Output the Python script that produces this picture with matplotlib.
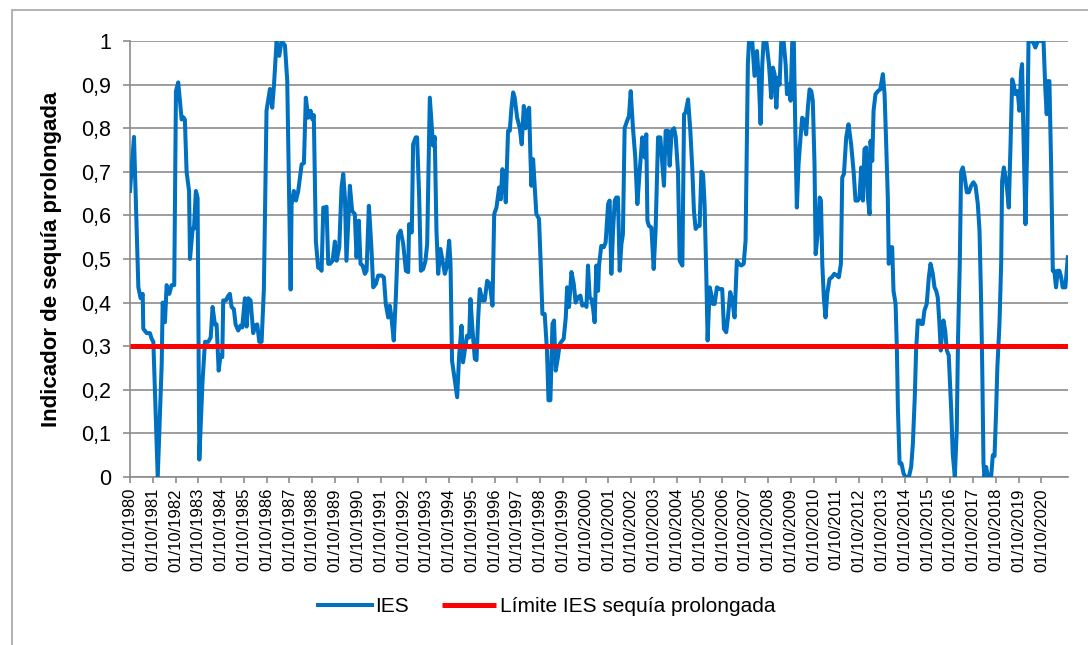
import matplotlib
matplotlib.use("Agg")
import matplotlib.pyplot as plt
from matplotlib.patches import Rectangle
from matplotlib.ticker import FuncFormatter

plt.rcParams['font.family'] = ['Liberation Sans', 'DejaVu Sans']

# Months elapsed since 01/10/1980 and IES values
months = [
    0, 2.1, 4.4, 5.6, 6.7, 7.0, 8.8, 10.5, 11.4, 12.3, 14.6, 16.7, 17.2, 18.4, 19.3, 20.7,
    21.9, 23.3, 24.2, 25.4, 27.2, 28.1, 28.9, 29.8, 31.1, 31.6, 33.0, 33.7, 34.7, 35.6,
    36.5, 38.2, 39.5, 41.2, 42.5, 43.5, 44.7, 45.6, 46.7, 47.7, 48.6, 49.1, 50.5, 51.8,
    52.6, 53.5, 54.7, 55.6, 57.0, 58.2, 59.1, 60.5, 61.4, 62.3, 63.5, 64.9, 65.8, 67.0,
    68.1, 69.3, 70.5, 71.9, 73.7, 74.9, 75.8, 77.2, 78.6, 79.8, 81.6, 82.8, 84.6,
    85.1, 86.3, 87.4, 88.6, 90.4, 91.6, 92.6, 93.9, 95.1, 96.1, 96.8, 97.9, 99.1, 100.0,
    100.9, 101.8, 102.6, 103.5, 104.4, 105.3, 106.7, 107.9, 108.8, 110.2, 111.4, 112.3,
    113.2, 114.0, 115.8, 117.0, 118.4, 119.3, 120.5, 121.4, 122.5, 123.7, 124.6, 125.8,
    126.3, 127.2, 128.1, 129.5, 130.7, 132.5, 133.7, 134.7, 136.0, 136.8, 137.7, 138.9,
    140.0, 141.2, 142.5, 143.9, 145.3, 146.5, 147.0, 148.4, 149.1, 150.5, 151.2, 152.3,
    153.2, 154.4, 155.6, 156.5, 157.9, 158.8, 159.6, 160.5, 161.4, 162.3, 163.5, 164.6,
    165.8, 166.7, 168.1, 168.8, 169.6, 171.1, 172.3, 173.3,
    174.6, 175.4, 176.3, 177.5, 178.6, 179.3, 180.4, 181.6, 182.5, 183.3, 184.2, 185.6,
    186.8, 188.1, 189.5, 190.9, 191.8, 193.0, 194.4, 195.3, 196.1, 197.0, 197.9, 199.1,
    200.0, 200.9, 201.8, 202.6, 203.9, 205.3, 206.3, 207.4, 208.4, 209.3, 210.2, 210.9,
    211.4, 212.3, 213.2, 214.0, 215.4, 216.3, 217.2, 218.4, 219.6, 220.4, 221.4, 222.5,
    223.3, 224.2, 225.4, 226.3, 227.2, 228.4, 229.5, 230.2, 231.2, 232.5, 233.7, 234.7,
    235.9, 237.2, 238.2, 239.5, 240.4, 241.2, 242.1, 243.0, 243.9, 244.7, 245.6, 246.5,
    247.0, 248.2, 249.5, 250.5, 251.8, 252.6, 253.5, 254.4, 255.3, 256.1, 257.0, 257.9,
    258.8, 259.6, 260.5, 261.8, 262.8, 263.7, 264.9, 266.1, 267.2, 268.4,
    269.8, 271.1, 271.9, 272.5, 273.3, 274.6, 275.8, 276.8, 278.1, 279.3, 280.2, 281.2,
    282.1, 283.3, 284.2, 285.3, 286.5, 287.4, 288.6, 289.5, 290.9, 291.8, 292.6, 293.9,
    295.1, 296.1, 297.0, 297.9, 299.1, 300.0, 300.9, 301.8, 302.6, 303.5, 304.2, 305.3,
    306.1, 307.0, 307.9, 309.1, 310.5, 311.9, 312.8, 314.0, 314.9, 316.1, 317.2, 318.4,
    319.6, 320.7, 321.9, 323.2, 324.2, 324.9, 325.4, 326.0, 327.7, 328.9, 330.2, 331.1,
    332.1, 333.0, 333.7, 335.1, 336.5, 337.7, 338.6, 339.5, 340.4, 341.2, 342.1, 343.0,
    344.2, 345.3, 346.0, 347.0, 347.9, 348.8, 349.6, 350.4, 351.2, 352.1, 353.0, 354.0,
    354.9, 356.1, 357.0, 357.9,
    358.8, 359.6, 360.5, 361.1, 362.3, 363.2, 363.9, 364.6, 365.4, 366.3, 367.2, 368.4,
    369.6, 370.9, 372.3, 373.3, 374.4, 375.1, 376.0, 377.2, 378.4, 379.8, 381.1, 382.1,
    383.3, 384.2, 385.1, 386.0, 386.8, 387.7, 388.6, 389.5, 390.0, 390.9, 391.6, 392.6,
    393.9, 395.1, 396.5, 397.4, 398.2, 399.1, 399.6, 400.4, 401.4, 402.1, 403.2, 403.9,
    404.4, 405.3, 406.3, 407.4, 408.4, 410.2, 411.4, 412.3, 413.3, 414.0, 414.9, 415.8,
    416.7, 417.5, 418.4, 419.6, 420.7, 421.6, 422.8, 423.7, 424.6, 425.4, 426.3, 427.0,
    427.7, 428.4, 429.3, 430.2, 431.2, 432.5, 433.3, 434.4, 435.4, 436.1, 437.0, 437.7,
    438.6, 439.5, 440.7, 441.8, 443.0, 444.2, 445.3, 446.5, 447.4, 448.2, 448.8, 449.5,
    450.0, 450.9, 451.8, 453.5, 454.4, 455.3, 456.1, 456.8, 457.9, 458.8, 459.3, 460.2,
    461.1, 462.0, 462.8, 463.7, 464.6, 465.4, 466.3, 467.5, 468.4, 469.3, 469.8, 470.5,
    471.6, 472.5, 473.2, 474.6, 475.8, 476.8, 478.1, 479.8, 481.1, 482.1, 482.8, 483.3,
    484.2, 485.1, 486.0, 486.8, 487.7, 488.6, 489.5, 490.4, 491.2, 492.6, 493.9,
]
ies = [
    0.656, 0.78, 0.435, 0.41, 0.42, 0.34, 0.33, 0.33, 0.317, 0.31, 0.0, 0.26, 0.40, 0.355, 0.44, 0.42,
    0.44, 0.44, 0.885, 0.905, 0.82, 0.825, 0.82, 0.70, 0.656, 0.50, 0.57, 0.57, 0.656, 0.64,
    0.04, 0.22, 0.31, 0.31, 0.32, 0.39, 0.35, 0.35, 0.244, 0.28, 0.275, 0.405, 0.405, 0.416,
    0.42, 0.39, 0.385, 0.35, 0.336, 0.347, 0.343, 0.41, 0.345, 0.41, 0.405, 0.33, 0.347, 0.35,
    0.31, 0.31, 0.43, 0.84, 0.89, 0.847, 0.897, 1.0, 0.966, 1.0, 0.99, 0.91, 0.43,
    0.626, 0.656, 0.634, 0.656, 0.717, 0.72, 0.87, 0.824, 0.84, 0.82, 0.83, 0.54, 0.48, 0.48,
    0.473, 0.618, 0.618, 0.62, 0.489, 0.489, 0.496, 0.54, 0.496, 0.527, 0.664, 0.695,
    0.64, 0.496, 0.668, 0.61, 0.603, 0.504, 0.588, 0.489, 0.485, 0.466, 0.473, 0.622,
    0.588, 0.52, 0.435, 0.443, 0.462, 0.462, 0.458, 0.397, 0.366, 0.393, 0.366, 0.313,
    0.412, 0.553, 0.565, 0.534, 0.473, 0.47, 0.58, 0.561, 0.763, 0.779, 0.779, 0.641,
    0.473, 0.477, 0.496, 0.534, 0.87, 0.81, 0.76, 0.78, 0.565, 0.466, 0.523, 0.496,
    0.466, 0.48, 0.542, 0.489, 0.267, 0.22, 0.183, 0.275,
    0.347, 0.263, 0.29, 0.324, 0.32, 0.408, 0.336, 0.271, 0.268, 0.359, 0.431, 0.405,
    0.405, 0.45, 0.443, 0.393, 0.603, 0.618, 0.664, 0.637, 0.706, 0.695, 0.63, 0.794,
    0.794, 0.847, 0.882, 0.87, 0.824, 0.80, 0.763, 0.851, 0.80, 0.84, 0.847, 0.733,
    0.668, 0.729, 0.664, 0.603, 0.592, 0.489, 0.374, 0.374, 0.29, 0.176, 0.176, 0.351,
    0.359, 0.244, 0.275, 0.305, 0.31, 0.317, 0.366, 0.435, 0.39, 0.47, 0.443, 0.40,
    0.412, 0.416, 0.393, 0.397, 0.39, 0.485, 0.412, 0.408, 0.386, 0.355, 0.485, 0.427,
    0.485, 0.53, 0.527, 0.538, 0.626, 0.634, 0.466, 0.565, 0.634, 0.641, 0.641, 0.473,
    0.534, 0.557, 0.80, 0.817, 0.828, 0.885, 0.80, 0.733, 0.626, 0.70,
    0.779, 0.733, 0.786, 0.588, 0.576, 0.572, 0.477, 0.565, 0.779, 0.779, 0.725, 0.668,
    0.794, 0.794, 0.714, 0.794, 0.80, 0.78, 0.70, 0.496, 0.485, 0.832, 0.836, 0.866,
    0.794, 0.71, 0.61, 0.569, 0.576, 0.576, 0.70, 0.695, 0.626, 0.466, 0.313, 0.435,
    0.42, 0.397, 0.397, 0.435, 0.431, 0.431, 0.34, 0.332, 0.366, 0.424, 0.405, 0.366,
    0.496, 0.489, 0.485, 0.489, 0.542, 0.771, 0.947, 1.0, 1.0, 0.92, 0.977, 0.916,
    0.81, 0.947, 1.0, 1.0, 0.947, 0.87, 0.939, 0.924, 0.847, 0.916, 0.90, 1.0,
    1.0, 0.947, 0.878, 0.90, 0.863, 1.0, 1.0, 0.794, 0.618, 0.718, 0.771, 0.824,
    0.82, 0.786, 0.847, 0.889,
    0.885, 0.863, 0.718, 0.511, 0.565, 0.641, 0.634, 0.489, 0.412, 0.366, 0.42, 0.454,
    0.458, 0.466, 0.462, 0.458, 0.489, 0.687, 0.695, 0.779, 0.809, 0.763, 0.70, 0.634,
    0.634, 0.641, 0.71, 0.634, 0.752, 0.756, 0.641, 0.603, 0.771, 0.725, 0.84, 0.878,
    0.885, 0.889, 0.924, 0.878, 0.771, 0.641, 0.489, 0.527, 0.527, 0.427, 0.397, 0.29,
    0.16, 0.031, 0.031, 0.008, 0.0, 0.0, 0.023, 0.076, 0.183, 0.29, 0.359, 0.359,
    0.351, 0.351, 0.382, 0.397, 0.458, 0.489, 0.466, 0.435, 0.427, 0.412, 0.351, 0.29,
    0.336, 0.359, 0.336, 0.29, 0.279, 0.153, 0.053, 0.0, 0.107, 0.32, 0.489, 0.70,
    0.71, 0.69, 0.653, 0.653, 0.668, 0.676, 0.668, 0.626, 0.565, 0.412, 0.26, 0.031,
    0.0, 0.023, 0.0, 0.0, 0.05, 0.048, 0.145, 0.252, 0.351, 0.489, 0.679, 0.71,
    0.687, 0.656, 0.618, 0.756, 0.912, 0.90, 0.878, 0.885, 0.84, 0.931, 0.947, 0.794,
    0.58, 0.756, 1.0, 1.0, 0.996, 0.985, 1.0, 1.0, 1.0, 0.885, 0.832, 0.908,
    0.908, 0.718, 0.473, 0.473, 0.435, 0.473, 0.473, 0.458, 0.435, 0.435, 0.504,
]

limit_value = 0.3
tick_years = list(range(1980, 2021))
tick_labels = ["01/10/%d" % y for y in tick_years]
y_ticks = [0, 0.1, 0.2, 0.3, 0.4, 0.5, 0.6, 0.7, 0.8, 0.9, 1.0]

series_label = "IES"
limit_label = "Límite IES sequía prolongada"
y_title = "Indicador de sequía prolongada"

W, H = 1088, 645
fig = plt.figure(figsize=(W / 100, H / 100), dpi=100)
fig.patch.set_facecolor("white")

# outer chart border (only left and top edges are visible in the frame)
fig.patches.append(Rectangle((12 / W, -0.05), 1.1, 1 - 10 / H + 0.05,
                             transform=fig.transFigure, fill=False,
                             edgecolor="#a6a6a6", linewidth=1.2))

x_left, x_right = 130, 1068
y_top, y_bot = 41, 477
ax = fig.add_axes([x_left / W, 1 - y_bot / H, (x_right - x_left) / W, (y_bot - y_top) / H])

grid_col = "#8c8c8c"
ax.set_ylim(0, 1)
ax.set_xlim(0, 494)
ax.set_yticks(y_ticks)
ax.yaxis.set_major_formatter(FuncFormatter(lambda v, p: ("%g" % round(v, 1)).replace(".", ",")))
ax.set_xticks([12 * i for i in range(len(tick_years))])
ax.set_xticklabels(tick_labels, rotation=90, fontsize=12)
ax.tick_params(axis="y", labelsize=15.5, length=5, width=1.2, color=grid_col, pad=8.5)
ax.tick_params(axis="x", length=4.5, width=1.2, color=grid_col, pad=3.5)
ax.grid(axis="y", color=grid_col, linewidth=1.2)
ax.set_axisbelow(True)
for s in ["top", "right"]:
    ax.spines[s].set_visible(False)
for s in ["left", "bottom"]:
    ax.spines[s].set_color(grid_col)
    ax.spines[s].set_linewidth(1.2)

ax.plot(months, ies, color="#0070C0", linewidth=2.9, solid_joinstyle="round",
        label=series_label, zorder=3, clip_on=True)
ax.plot([0, 494], [limit_value, limit_value], color="#FF0000", linewidth=3.6,
        label=limit_label, zorder=4, solid_capstyle="butt")

ax.set_ylabel(y_title, fontsize=16, fontweight="bold")
ax.yaxis.set_label_coords(-0.0725, 0.5)

leg = fig.legend(loc="center", bbox_to_anchor=(546.5 / W, 1 - 607 / H), ncol=2,
                 frameon=False, fontsize=15, handlelength=2.6, handletextpad=0.15,
                 columnspacing=1.6)

fig.savefig("out.png", dpi=100)
